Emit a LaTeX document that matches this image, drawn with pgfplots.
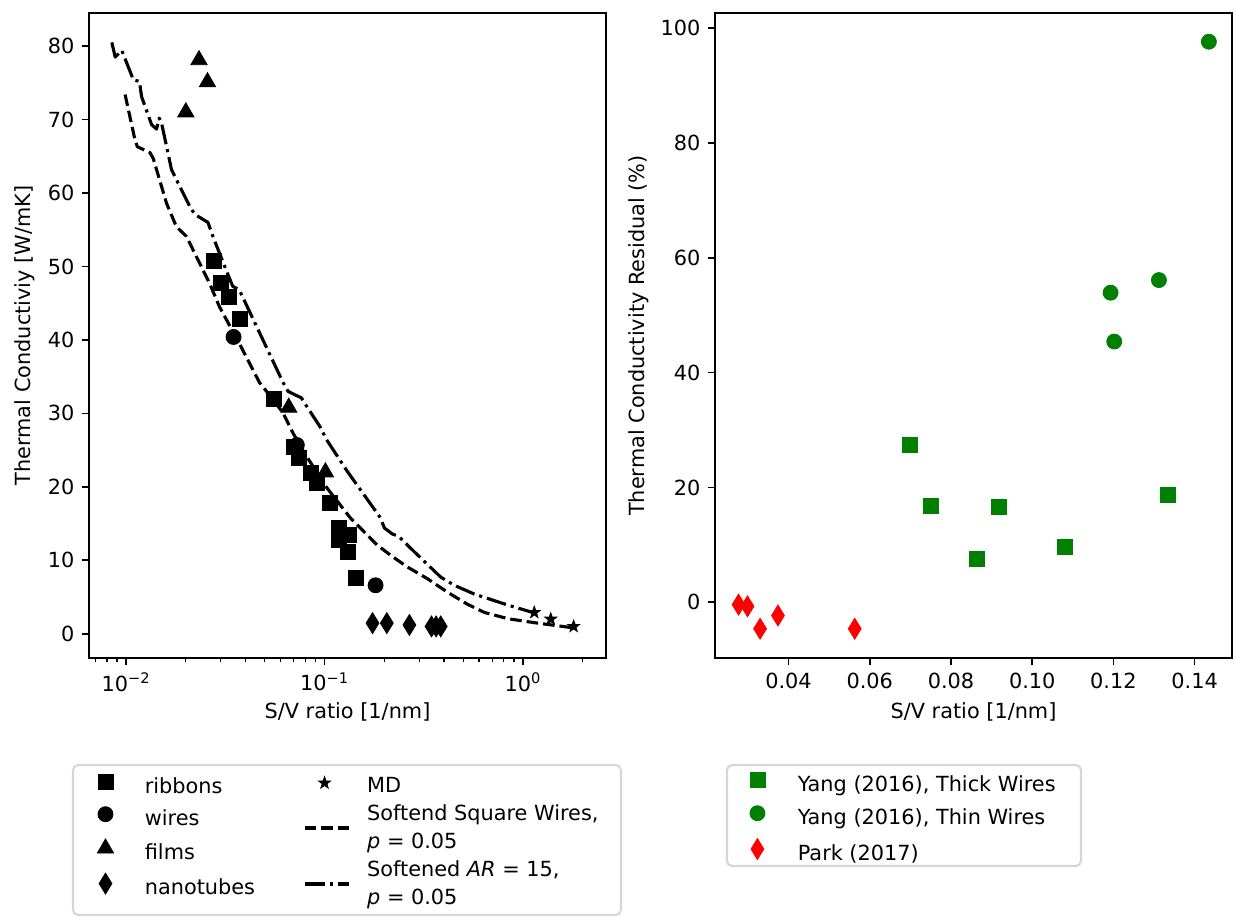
\documentclass[border=0pt]{standalone}
\usepackage{fontspec}
\setmainfont{DejaVu Sans}
\usepackage{pgfplots}
\pgfplotsset{compat=1.18}
\usetikzlibrary{plotmarks}

\definecolor{mplgreen}{rgb}{0,0.502,0}
\definecolor{legframe}{gray}{0.84}

\pgfdeclareplotmark{fstar}{%
  \pgfpathmoveto{\pgfpointpolar{90}{\pgfplotmarksize}}%
  \pgfpathlineto{\pgfpointpolar{126}{0.4\pgfplotmarksize}}%
  \pgfpathlineto{\pgfpointpolar{162}{\pgfplotmarksize}}%
  \pgfpathlineto{\pgfpointpolar{198}{0.4\pgfplotmarksize}}%
  \pgfpathlineto{\pgfpointpolar{234}{\pgfplotmarksize}}%
  \pgfpathlineto{\pgfpointpolar{270}{0.4\pgfplotmarksize}}%
  \pgfpathlineto{\pgfpointpolar{306}{\pgfplotmarksize}}%
  \pgfpathlineto{\pgfpointpolar{342}{0.4\pgfplotmarksize}}%
  \pgfpathlineto{\pgfpointpolar{18}{\pgfplotmarksize}}%
  \pgfpathlineto{\pgfpointpolar{54}{0.4\pgfplotmarksize}}%
  \pgfpathclose
  \pgfusepathqfillstroke
}

\pgfplotsset{
  myaxis/.style={
    scale only axis, width=248.16pt, height=309.6pt,
    anchor=south west,
    axis line style={line width=0.8pt},
    tick align=outside, xtick pos=left, ytick pos=left,
    major tick length=3.5pt, minor tick length=2pt,
    major tick style={line width=0.8pt, black},
    minor tick style={line width=0.6pt, black},
    tick label style={font=\fontsize{10}{12}\selectfont},
    /pgf/number format/assume math mode=true,
    label style={font=\fontsize{10}{12}\selectfont},
    every axis x label/.style={at={(axis description cs:0.5,-0.0837)}, anchor=center},
  },
  legmark/.style={legend image code/.code={\path (0pt,0pt) (34.1pt,0pt); \draw[##1] plot coordinates {(15.4pt,2.7pt)};}},
  legmarkR/.style={legend image code/.code={\path (0pt,0pt) (33.6pt,0pt); \draw[##1] plot coordinates {(14.4pt,2.7pt)};}},
  legstar/.style={legend image code/.code={\path (0pt,-3pt) (29.3pt,3pt); \draw[##1] plot coordinates {(9.6pt,0pt)};}},
  legline/.style={legend image code/.code={\path (0pt,-3pt) (29.3pt,3pt); \draw[##1] (0pt,0pt) -- (21.1pt,0pt);}},
  dashedline/.style={black, line width=1.5pt, line join=round, dash pattern=on 5.55pt off 2.4pt},
  dashdotline/.style={black, line width=1.5pt, line join=round, dash pattern=on 9.6pt off 2.4pt on 1.5pt off 2.4pt},
}

\begin{document}
\begin{tikzpicture}
\useasboundingbox (-42.72pt,-124.32pt) rectangle (550.56pt,315.84pt);

% ---------------- left axis ----------------
\begin{axis}[myaxis, name=L, at={(0pt,0pt)},
  xmode=log, xmin=0.0065, xmax=2.62, ymin=-3.3, ymax=84.5,
  xtick={0.01,0.1,1},
  xticklabels={10\textsuperscript{−2},10\textsuperscript{−1},10\textsuperscript{0}},
  minor xtick={0.007,0.008,0.009,0.02,0.03,0.04,0.05,0.06,0.07,0.08,0.09,0.2,0.3,0.4,0.5,0.6,0.7,0.8,0.9,2},
  ytick={0,10,20,30,40,50,60,70,80},
  xlabel={S/V ratio [1/nm]},
  ylabel={Thermal Conductiviy [W/mK]},
  every axis y label/.style={at={(axis description cs:-0.1237,0.5)}, rotate=90, anchor=center},
  legend style={at={(-0.03095,-0.18046)}, anchor=north west, draw=none, fill=none,
    inner sep=0pt, outer sep=0pt, row sep=4.3pt, column sep=0pt,
    font=\fontsize{10}{12}\selectfont,
    cells={anchor=west},
    nodes={inner sep=0pt, outer sep=0pt, text height=7.6pt, text depth=2.2pt}},
]
\addplot[only marks, mark=square*, mark size=3.6pt, black, legmark] coordinates {
 (0.0278,50.8) (0.0300,47.8) (0.0331,45.8) (0.0376,42.9) (0.0558,32.0)
 (0.0697,25.4) (0.0742,24.0) (0.0852,21.9) (0.0916,20.6) (0.1069,17.8)
 (0.1188,14.4) (0.1321,13.5) (0.1188,12.8) (0.1305,11.2) (0.1431,7.6)};
\addlegendentry{ribbons}
\addplot[only marks, mark=*, mark size=3.6pt, black, legmark] coordinates {
 (0.0348,40.4) (0.0725,25.7) (0.1808,6.6)};
\addlegendentry{wires}
\addplot[only marks, mark=triangle*, mark size=4.5pt, black, legmark] coordinates {
 (0.0200,71.0) (0.0233,78.1) (0.0257,75.1) (0.0660,30.8) (0.1010,22.0)};
\addlegendentry{films}
\addplot[only marks, mark=diamond*, mark size=5pt, mark options={xscale=0.82}, black, legmark] coordinates {
 (0.1745,1.45) (0.2060,1.45) (0.2677,1.2) (0.3460,1.0) (0.3650,1.0) (0.3850,1.0)};
\addlegendentry{nanotubes}
\addplot[forget plot, only marks, mark=fstar, mark size=3pt, black] coordinates {
 (1.14,2.9) (1.38,2.0) (1.80,1.0)};
\addplot[forget plot, dashedline, mark=none] coordinates {
 (0.00988,73.4) (0.01109,67.2) (0.01139,66.3) (0.01318,65.5) (0.01370,64.7)
 (0.01598,58.6) (0.01793,55.4) (0.02012,54.1) (0.02634,47.7) (0.02955,44.5)
 (0.03723,39.5) (0.0470,34.2) (0.0550,31.9) (0.0618,30.05) (0.0694,27.3)
 (0.0796,24.5) (0.1025,19.9) (0.1346,15.8) (0.1838,12.1) (0.2149,10.7)
 (0.2611,9.1) (0.3299,7.5) (0.4168,5.65) (0.5264,4.0) (0.6397,2.9)
 (0.8403,2.05) (1.148,1.5) (1.80,0.8)};
\addplot[forget plot, dashdotline, mark=none] coordinates {
 (0.00847,80.5) (0.00881,78.5) (0.00951,79.4) (0.01088,75.4) (0.01166,75.2)
 (0.01197,73.1) (0.01344,69.3) (0.01424,68.7) (0.01468,70.2) (0.01509,69.5)
 (0.01693,63.2) (0.01864,60.9) (0.02091,58.2) (0.02215,57.1) (0.02584,56.0)
 (0.02736,54.1) (0.03192,49.5) (0.03447,47.3) (0.0372,46.8) (0.0618,34.2)
 (0.0655,33.0) (0.0765,32.1) (0.0811,31.0) (0.0948,28.2) (0.1025,26.4)
 (0.1295,22.2) (0.1573,19.0) (0.1911,15.8) (0.2002,14.4) (0.2191,13.6)
 (0.2368,13.25) (0.2822,11.2) (0.3855,7.7) (0.4505,6.6) (0.5690,5.4)
 (0.8403,3.9) (1.104,2.95) (1.14,2.9)};
\end{axis}

% ---------------- second legend column (left panel) ----------------
\begin{axis}[myaxis, at={(0pt,0pt)}, hide axis, xmin=0, xmax=1, ymin=0, ymax=1,
  legend style={at={(0.41393,-0.17449)}, anchor=north west, draw=none, fill=none,
    inner sep=0pt, outer sep=0pt, row sep=4.4pt, column sep=0pt,
    font=\fontsize{10}{13.4}\selectfont,
    cells={anchor=west, align=left},
    nodes={inner sep=0pt, outer sep=0pt}},
]
\addlegendimage{only marks, mark=fstar, mark size=3pt, black, legstar}
\addlegendentry{MD\rule[-3.1pt]{0pt}{13.5pt}}
\addlegendimage{dashedline, legline}
\addlegendentry{Softend Square Wires,\\\textit{p} = 0.05}
\addlegendimage{dashdotline, legline}
\addlegendentry{Softened \textit{AR} = 15,\\\textit{p} = 0.05}
\end{axis}

\draw[legframe, line width=1pt, rounded corners=2.5pt] (-7.68pt,-51.36pt) rectangle (255.36pt,-123.36pt);

% ---------------- right axis ----------------
\begin{axis}[myaxis, name=R, at={(300.48pt,0pt)},
  xmin=0.0219, xmax=0.1492, ymin=-9.7, ymax=102.6,
  xtick={0.04,0.06,0.08,0.10,0.12,0.14},
  scaled x ticks=false,
  xticklabel style={/pgf/number format/.cd, fixed, fixed zerofill, precision=2, /tikz/.cd},
  ytick={0,20,40,60,80,100},
  xlabel={S/V ratio [1/nm]},
  ylabel={Thermal Conductivity Residual (\%)},
  every axis y label/.style={at={(axis description cs:-0.1479,0.5)}, rotate=90, anchor=center},
  legend style={at={(0.02321,-0.17797)}, anchor=north west, draw=none, fill=none,
    inner sep=0pt, outer sep=0pt, row sep=4.6pt, column sep=0pt,
    font=\fontsize{10}{12}\selectfont,
    cells={anchor=west},
    nodes={inner sep=0pt, outer sep=0pt, text height=7.6pt, text depth=2.2pt}},
]
\addplot[only marks, mark=square*, mark size=3.6pt, color=mplgreen, legmarkR] coordinates {
 (0.0700,27.4) (0.0751,16.8) (0.0919,16.6) (0.0863,7.5) (0.1080,9.7) (0.1334,18.7)};
\addlegendentry{Yang (2016), Thick Wires}
\addplot[only marks, mark=*, mark size=3.6pt, color=mplgreen, legmarkR] coordinates {
 (0.1435,97.6) (0.1312,56.1) (0.1193,53.9) (0.1202,45.4)};
\addlegendentry{Yang (2016), Thin Wires}
\addplot[only marks, mark=diamond*, mark size=5pt, mark options={xscale=0.82}, color=red, legmarkR] coordinates {
 (0.0277,-0.4) (0.0299,-0.7) (0.0330,-4.6) (0.0374,-2.3) (0.0563,-4.6)};
\addlegendentry{Park (2017)}
\end{axis}

\draw[legframe, line width=1pt, rounded corners=2.5pt] (306.24pt,-51.36pt) rectangle (476.16pt,-99.84pt);
\end{tikzpicture}
\end{document}
